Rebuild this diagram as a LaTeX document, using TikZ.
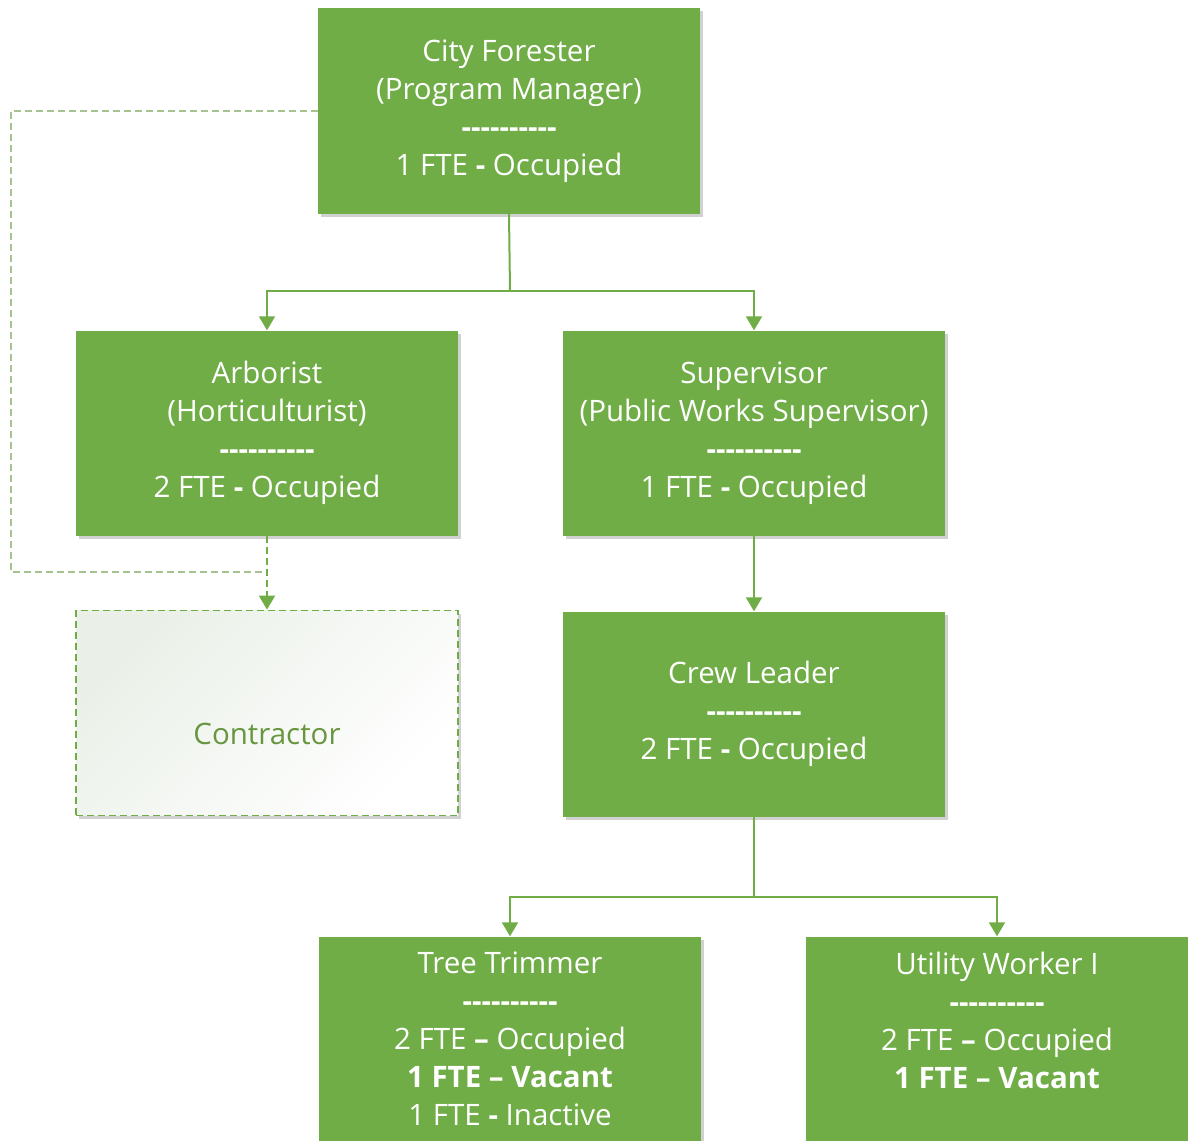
\documentclass[tikz,border=0pt]{standalone}
\usepackage{fontspec}
\setmainfont{Open Sans}
\usetikzlibrary{arrows.meta,shadows}
\definecolor{boxgreen}{RGB}{112,173,71}
\definecolor{dashgreen}{RGB}{165,195,145}
\definecolor{contxt}{RGB}{104,150,62}
\definecolor{contfill}{RGB}{234,240,232}
\newcommand{\dashrow}{\textbf{-{}-{}-{}-{}-{}-{}-{}-{}-{}-}}
\begin{document}
\begin{tikzpicture}[x=1pt, y=-1pt,
		post/.style={rectangle, fill=boxgreen, text=white, align=center, inner sep=0pt,
			minimum width=382pt, minimum height=205pt, font=\fontsize{29.5}{38}\selectfont,
			drop shadow={shadow xshift=3pt, shadow yshift=-3pt, opacity=0.18, fill=black}},
		extpost/.style={post, fill=none, top color=contfill, bottom color=white, shading angle=45,
			draw=boxgreen, dashed, dash pattern=on 7pt off 4pt, line width=1.8pt, text=contxt},
		link/.style={draw=boxgreen, line width=2pt, -{Triangle[width=16pt,length=14pt]}},
		bar/.style={draw=boxgreen, line width=2pt}]
	\useasboundingbox (0,0) rectangle (1188,1140);
	\clip (0,0) rectangle (1188,1140);
	
	% posts
	\node[post] (cf) at (509,111) {City Forester\\(Program Manager)\\\dashrow\\1 FTE \textbf{-} Occupied};
	\node[post] (arb) at (267,433) {Arborist\\(Horticulturist)\\\dashrow\\2 FTE \textbf{-} Occupied};
	\node[post] (sup) at (754,433) {Supervisor\\(Public Works Supervisor)\\\dashrow\\1 FTE \textbf{-} Occupied};
	\node[extpost] (con) at (267,713) {\smash{\raisebox{-31pt}{Contractor}}};
	\node[post] (crew) at (754,714) {Crew Leader\\\dashrow\\2 FTE \textbf{-} Occupied};
	\node[post] (trim) at (510,1039) {Tree Trimmer\\\dashrow\\2 FTE \textbf{--} Occupied\\\textbf{1 FTE -- Vacant}\\1 FTE \textbf{-} Inactive};
	\node[post] (util) at (997,1039) {Utility Worker I\\\dashrow\\2 FTE \textbf{--} Occupied\\\textbf{1 FTE -- Vacant}\\\phantom{1 FTE - Inactive}};
	
	% junctions
	\coordinate (j1) at (510,291);
	\coordinate (j2) at (754,897);
	\coordinate (dl) at (11,572);
	
	\draw[bar] (cf.south) -- (j1);
	\draw[link] (j1) -| (arb.north);
	\draw[link] (j1) -| (sup.north);
	\draw[link] (sup.south) -- (crew.north);
	\draw[bar] (crew.south) -- (j2);
	\draw[link] (j2) -| (trim.north);
	\draw[link] (j2) -| (util.north);
	
	% contracted work
	\draw[dashgreen, line width=1.8pt, dash pattern=on 7pt off 4pt] (cf.west) -| (dl) -- (dl -| con.north);
	\draw[link, dash pattern=on 7pt off 4pt] (arb.south) -- (con.north);
\end{tikzpicture}
\end{document}
